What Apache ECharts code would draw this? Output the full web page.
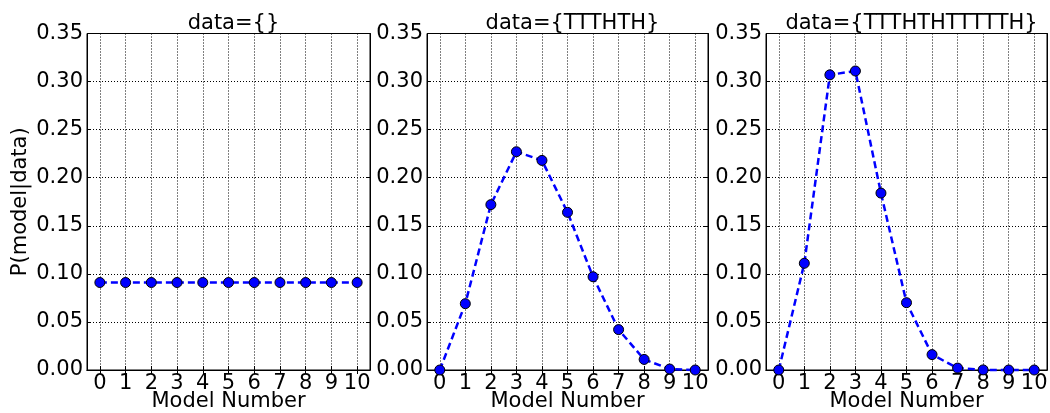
<!DOCTYPE html>
<html>
<head>
<meta charset="utf-8">
<script src="https://cdn.jsdelivr.net/npm/echarts@6/dist/echarts.min.js"></script>
<style>
html,body{margin:0;padding:0;background:#fff;}
#c{width:1050px;height:413px;}
</style>
</head>
<body>
<div id="c"></div>
<script>
const categories = ['0','1','2','3','4','5','6','7','8','9','10'];
const titles = ['data={}', 'data={TTTHTH}', 'data={TTTHTHTTTTTH}'];
const valuesEmpty = [0.091,0.091,0.091,0.091,0.091,0.091,0.091,0.091,0.091,0.091,0.091];
const valuesTTTHTH = [0.0,0.069,0.172,0.227,0.218,0.164,0.097,0.042,0.011,0.001,0.0];
const valuesLong = [0.0,0.111,0.307,0.311,0.184,0.070,0.016,0.002,0.0001,0.0,0.0];
const yTicks = [0,0.05,0.10,0.15,0.20,0.25,0.30,0.35];

const seriesData = [valuesEmpty, valuesTTTHTH, valuesLong];
const FONT = 'DejaVu Sans';
const FS = 21;
const panels = [
  {left: 87, width: 283},
  {left: 427, width: 281},
  {left: 766, width: 281}
];
const TOP = 33.5, HEIGHT = 336.5;

const grid = [], xAxis = [], yAxis = [], series = [], title = [];
panels.forEach((p, i) => {
  grid.push({left: p.left, top: TOP, width: p.width, height: HEIGHT, containLabel: false,
    outerBoundsMode: 'none',
    show: true, borderColor: '#000', borderWidth: 1, backgroundColor: 'transparent', z: 3});
  title.push({text: titles[i], left: p.left + p.width / 2, top: 8, textAlign: 'center',
    textStyle: {fontFamily: FONT, fontSize: FS, fontWeight: 'normal', color: '#000'}});
  xAxis.push({type: 'category', gridIndex: i, data: categories, boundaryGap: true, position: 'bottom',
    name: 'Model Number', nameLocation: 'middle', nameGap: 21, nameMoveOverlap: false,
    nameTextStyle: {fontFamily: FONT, fontSize: FS, color: '#000'},
    axisLine: {show: true, lineStyle: {color: '#000', width: 1}},
    axisTick: {show: true, inside: true, length: 4, alignWithLabel: true, lineStyle: {color: '#000'}},
    axisLabel: {fontFamily: FONT, fontSize: FS, color: '#000', margin: 3, interval: 0},
    splitLine: {show: true, alignWithLabel: true, lineStyle: {color: '#000', type: [1, 2], width: 1}}
  });
  xAxis.push({type: 'category', gridIndex: i, data: categories, boundaryGap: true, position: 'top',
    axisLine: {show: true, lineStyle: {color: '#000', width: 1}},
    axisTick: {show: true, inside: true, length: 4, alignWithLabel: true, lineStyle: {color: '#000'}},
    axisLabel: {show: false}, splitLine: {show: false}
  });
  yAxis.push({type: 'value', gridIndex: i, min: 0, max: 0.35, interval: 0.05, position: 'left',
    name: i === 0 ? 'P(model|data)' : '', nameLocation: 'middle', nameGap: 56, nameRotate: 90,
    nameMoveOverlap: false,
    nameTextStyle: {fontFamily: FONT, fontSize: FS, color: '#000'},
    axisLine: {show: true, lineStyle: {color: '#000', width: 1}},
    axisTick: {show: true, inside: true, length: 4, lineStyle: {color: '#000'}},
    axisLabel: {fontFamily: FONT, fontSize: FS, color: '#000', margin: 4,
      formatter: v => v.toFixed(2)},
    splitLine: {show: true, lineStyle: {color: '#000', type: [1, 2], width: 1}}
  });
  yAxis.push({type: 'value', gridIndex: i, min: 0, max: 0.35, interval: 0.05, position: 'right',
    axisLine: {show: true, lineStyle: {color: '#000', width: 1}},
    axisTick: {show: true, inside: true, length: 4, lineStyle: {color: '#000'}},
    axisLabel: {show: false}, splitLine: {show: false}
  });
  series.push({type: 'line', xAxisIndex: i * 2, yAxisIndex: i * 2, data: seriesData[i],
    symbol: 'circle', symbolSize: 10, showSymbol: true, z: 5, clip: false,
    itemStyle: {color: '#0000ff', borderColor: '#000', borderWidth: 1},
    lineStyle: {color: '#0000ff', width: 2.5, type: [7, 4]},
    emphasis: {disabled: true}, animation: false
  });
});

const chart = echarts.init(document.getElementById('c'), null, {renderer: 'canvas'});
chart.setOption({animation: false, backgroundColor: '#fff', title, grid, xAxis, yAxis, series});
</script>
</body>
</html>
